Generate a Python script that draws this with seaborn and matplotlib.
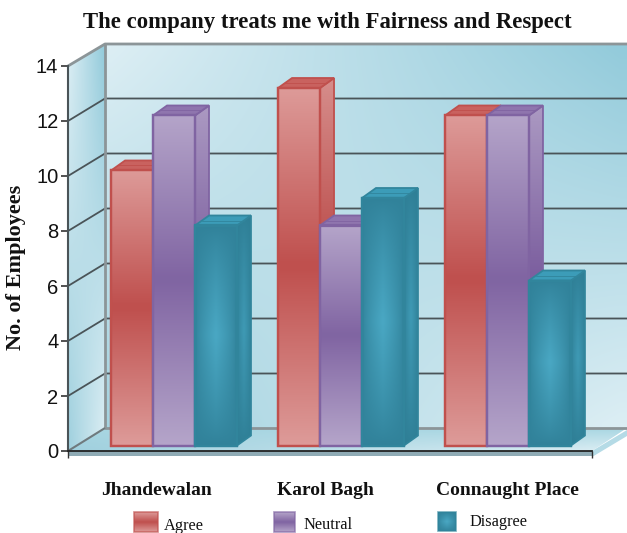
import numpy as np
import pandas as pd
import matplotlib
matplotlib.use("Agg")
import matplotlib.pyplot as plt
import seaborn as sns
from matplotlib.colors import to_rgb
from matplotlib.patches import Polygon
from matplotlib.transforms import Affine2D, IdentityTransform

# ---- data ----
branches = ["Jhandewalan", "Karol Bagh", "Connaught Place"]
responses = ["Agree", "Neutral", "Disagree"]
agree = [10, 13, 12]
neutral = [12, 8, 12]
disagree = [8, 9, 6]
y_ticks = [0, 2, 4, 6, 8, 10, 12, 14]
title = "The company treats me with Fairness and Respect"
y_label = "No. of Employees"

W, H = 627, 533
sns.set_theme(style="white")
plt.rcParams["font.family"] = ["Liberation Sans", "DejaVu Sans"]
SERIF = ["Liberation Serif", "DejaVu Serif"]

df = pd.DataFrame({
    "Branch": branches * 3,
    "Response": np.repeat(responses, 3),
    "Count": agree + neutral + disagree,
})
palette = {"Agree": "#c0504d", "Neutral": "#8064a2", "Disagree": "#31859c"}

fig = plt.figure(figsize=(W / 100, H / 100), dpi=100, facecolor="white")
ax = fig.add_axes([68 / W, (H - 451) / H, 524 / W, 385 / H])
sns.barplot(data=df, x="Branch", y="Count", hue="Response", hue_order=responses,
            palette=palette, width=0.754, gap=0, legend=False, ax=ax, zorder=5)
ax.set_xlim(-0.587, 2.551)
ax.set_ylim(0, 14)
ax.patch.set_visible(False)


def P(x, y):
    """top-left pixel position -> display position"""
    return (x, H - y)


def image(verts, img, zorder):
    v = np.array(verts, float)
    im = ax.imshow(img, extent=(v[:, 0].min(), v[:, 0].max(), v[:, 1].min(), v[:, 1].max()),
                   origin="upper", aspect="auto", interpolation="bilinear",
                   transform=IdentityTransform(), zorder=zorder)
    clip = Polygon(v, closed=True, transform=IdentityTransform())
    im.set_clip_box(fig.bbox)
    im.set_clip_path(clip)
    return im


def corners(tl, tr, bl, br, n=40):
    c = [np.array(to_rgb(k)) for k in (tl, tr, bl, br)]
    u, v = np.meshgrid(np.linspace(0, 1, n), np.linspace(0, 1, n))
    u, v = u[..., None], v[..., None]
    return (1 - v) * ((1 - u) * c[0] + u * c[1]) + v * ((1 - u) * c[2] + u * c[3])


def poly(verts, zorder, fc="none", ec="none", lw=0.0):
    ax.add_patch(Polygon(verts, closed=True, transform=IdentityTransform(), fc=fc, ec=ec,
                         lw=lw, zorder=zorder, clip_on=False, joinstyle="miter"))


def pline(xs, ys, color, lw, zorder):
    pts = [P(a, b) for a, b in zip(xs, ys)]
    ax.plot([p[0] for p in pts], [p[1] for p in pts], transform=IdentityTransform(),
            color=color, lw=lw, zorder=zorder, clip_on=False, solid_capstyle="butt",
            scalex=False, scaley=False)


LIGHT, DARK = "#dcEEF4", "#93cbdb"
# back wall, side wall, floor, base strip
image([P(105, 44), P(627, 44), P(627, 428), P(105, 428)], corners(LIGHT, DARK, "#a4d3e0", "#dcEEF4"), 0)
image([P(68, 66), P(105, 44), P(105, 428), P(68, 451)], corners(LIGHT, DARK, "#9fd0de", LIGHT), 0.1)
image([P(68, 451), P(105, 428), P(627, 428), P(592, 451)], corners("#a8d6e2", "#a8d6e2", "#a0d0de", "#dcEEF4"), 0.1)
poly([P(68, 451), P(592, 451), P(592, 456), P(68, 456)], 0.2, fc="#8fabb5")
poly([P(592, 451), P(627, 430), P(627, 436), P(592, 457)], 0.2, fc="#b5dbe6")

# wall frame and grid lines, derived from the y scale
wall_dx, wall_dy = 37, 22.5
to_disp = ax.transData.transform
for t in y_ticks:
    x0, y0 = to_disp((ax.get_xlim()[0], t))
    if t in (0, 14):
        continue
    ax.plot([x0, x0 + wall_dx, W], [y0, y0 + wall_dy, y0 + wall_dy], transform=IdentityTransform(),
            color="#4a5458", lw=1.3, zorder=1, clip_on=False, scalex=False, scaley=False)
pline([68, 105, 627], [66, 44, 44], "#8c9598", 2.0, 1.2)
pline([105, 105, 627], [44, 428, 428], "#8c9598", 2.0, 1.2)
pline([68, 105], [451, 428], "#6f7a7e", 1.5, 1.2)

# bars: front faces come from seaborn's patches; depth drawn around them
bar_dx, bar_dy = 14, 10
shift_x, shift_y = 8, 5.5
bar_shift = ax.transData + Affine2D().translate(shift_x, shift_y)


def vert_grad(light, mid, n=60):
    l, m = np.array(to_rgb(light)), np.array(to_rgb(mid))
    t = 1 - np.abs(np.linspace(-1, 1, n))
    return (l + (m - l) * t[:, None])[:, None, :].repeat(2, axis=1)


def path_grad(edge, centre, n=60):
    e, c = np.array(to_rgb(edge)), np.array(to_rgb(centre))
    u, v = np.meshgrid(np.linspace(-1, 1, n), np.linspace(-1, 1, n))
    t = (np.clip(1 - np.abs(u), 0, 1) ** 0.7 * np.clip(1 - np.abs(v), 0, 1) ** 0.8)[..., None]
    return e + (c - e) * t


styles = {
    "Agree": dict(front=vert_grad("#dd9a98", "#bf4f4d"), side=vert_grad("#d68d8b", "#bb4b49"),
                  top="#c9625f", edge="#c0504d"),
    "Neutral": dict(front=vert_grad("#b4a4c9", "#8064a2"), side=vert_grad("#ab99c2", "#7c5f9f"),
                    top="#8f75ae", edge="#8064a2"),
    "Disagree": dict(front=path_grad("#31829a", "#4aa8c4"), side=path_grad("#2f7f96", "#3f9ab5"),
                     top="#3c9cb8", edge="#31859c"),
}

z = 2.0
for resp, cont in zip(responses, ax.containers):
    st = styles[resp]
    for bar in cont:
        bar.set_transform(bar_shift)
        bar.set_clip_on(False)
        bar.set_facecolor("none")
        bar.set_edgecolor(st["edge"])
        bar.set_linewidth(1.6)
        x, w, h = bar.get_x(), bar.get_width(), bar.get_height()
        (x0, y0), (x1, y1) = bar_shift.transform([(x, 0), (x + w, h)])
        side = [(x1, y0), (x1 + bar_dx, y0 + bar_dy), (x1 + bar_dx, y1 + bar_dy), (x1, y1)]
        top = [(x0, y1), (x1, y1), (x1 + bar_dx, y1 + bar_dy), (x0 + bar_dx, y1 + bar_dy)]
        front = [(x0, y0), (x1, y0), (x1, y1), (x0, y1)]
        image(side, st["side"], z)
        poly(side, z + 0.01, ec=st["edge"], lw=1.3)
        poly(top, z + 0.02, fc=st["top"], ec=st["edge"], lw=1.3)
        # inner ridge of the top face
        ax.plot([x0 + bar_dx * .5, x1 + bar_dx * .5], [y1 + bar_dy * .5] * 2, transform=IdentityTransform(),
                color=st["edge"], lw=0.6, zorder=z + 0.03, clip_on=False, scalex=False, scaley=False)
        image(front, st["front"], z + 0.04)
        poly(front, z + 0.05, ec=st["edge"], lw=1.6)
        z += 0.1
        bar.set_zorder(z + 0.06)

# axes
for s in ("top", "right"):
    ax.spines[s].set_visible(False)
ax.spines["left"].set_color("#4a5458")
ax.spines["left"].set_linewidth(1.5)
ax.spines["bottom"].set_color("#222222")
ax.spines["bottom"].set_linewidth(1.3)
for s in ax.spines.values():
    s.set_zorder(50)
ax.set_yticks(y_ticks)
ax.tick_params(axis="y", left=True, length=5, width=1.2, color="#333333", labelsize=14.5,
               labelcolor="#111111", pad=2)
ax.tick_params(axis="x", bottom=False, labelsize=14, pad=16)
ax.set_xlabel("")
ax.set_ylabel("")
ax.set_xticks(range(len(branches)))
ax.set_xticklabels(branches, family=SERIF, fontweight="bold", color="#111111")
for lbl, dx in zip(ax.get_xticklabels(), (-10, -8, 7)):
    lbl.set_transform(lbl.get_transform() + Affine2D().translate(dx, 0))
# axis end ticks
pline([68, 68], [451, 458], "#333333", 1.0, 50)
pline([592, 592], [451, 458], "#333333", 1.0, 50)

fig.text(327 / W, 1 - 22 / H, title, family=SERIF, fontweight="bold", fontsize=16.4,
         ha="center", va="center", color="#111111")
fig.text(16 / W, 1 - 267 / H, y_label, family=SERIF, fontweight="bold", fontsize=16,
         rotation=90, ha="center", va="center", color="#111111")

# legend
swatches = [(134, 158, 512, 532), (274, 295, 512, 532), (438, 456, 512, 531)]
text_pos = [(164, 526), (303, 525), (470, 522)]
for resp, (a, b, c, d), (tx, ty) in zip(responses, swatches, text_pos):
    st = styles[resp]
    verts = [P(a, c), P(b, c), P(b, d), P(a, d)]
    image(verts, st["front"], 60)
    poly(verts, 61, ec=st["edge"] + "aa", lw=1.2)
    fig.text(tx / W, 1 - ty / H, resp, family=SERIF, fontsize=11.8, ha="left", va="center", color="#111111")

ax.set_xlim(-0.587, 2.551)
ax.set_ylim(0, 14)
fig.savefig("out.png", dpi=100, facecolor="white")
